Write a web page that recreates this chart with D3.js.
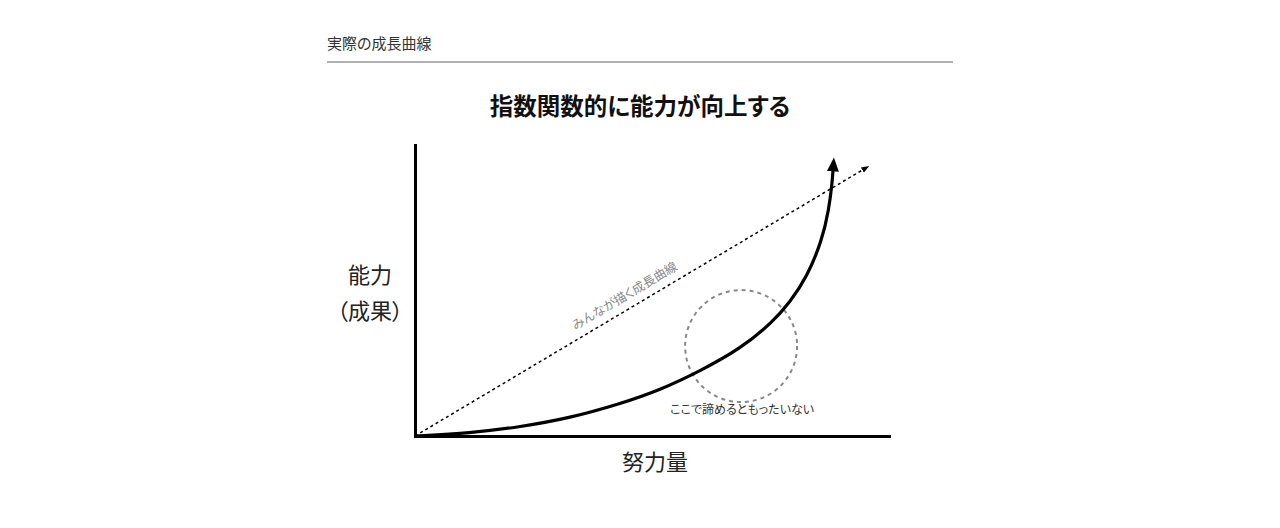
<!DOCTYPE html>
<html>
<head>
<meta charset="utf-8">
<script src="https://cdn.jsdelivr.net/npm/d3@7"></script>
<style>
  html, body { margin: 0; padding: 0; background: #fff; }
  svg text { font-family: "Noto Sans CJK JP", "Noto Sans", sans-serif; font-feature-settings: "palt"; }
</style>
</head>
<body>
<svg id="chart" width="1280" height="528"></svg>
<script>
// texts
const headerText = "実際の成長曲線";
const titleText = "指数関数的に能力が向上する";
const yLabelLines = ["能力", "（成果）"];
const xLabelText = "努力量";
const linearLabel = "みんなが描く成長曲線";
const circleLabel = "ここで諦めるともったいない";

const effort  = [0, 11.6, 22.2, 32.7, 43.2, 51.7, 60.1, 68.6, 75.5, 79.1, 82.7, 85.9, 87.3, 88.0, 88.2];
const ability = [0, 1.0, 3.1, 6.2, 11.0, 15.8, 22.3, 29.9, 39.2, 46.0, 54.6, 67.4, 77.7, 86.9, 91.6];

// the straight line everyone imagines
const linearEffort  = [0, 95.1];
const linearAbility = [0, 92.1];

// "give up here" circle centre
const circleCenter = [68.8, 30.9];

const width = 1280;
const height = 528;
const margin = { top: 145, right: 391, bottom: 92, left: 415 };

const svg = d3.select("#chart");

// header
svg.append("text")
    .attr("x", 327)
    .attr("y", 49)
    .style("font-size", "15px")
    .attr("fill", "#333")
    .text(headerText);

svg.append("line")
    .attr("x1", 327).attr("x2", 953)
    .attr("y1", 62).attr("y2", 62)
    .attr("stroke", "#999")
    .attr("stroke-width", 1.5);

// title
svg.append("text")
    .attr("x", 640)
    .attr("y", 115)
    .attr("text-anchor", "middle")
    .style("font-size", "23.5px")
    .style("font-weight", "bold")
    .attr("fill", "#111")
    .text(titleText);

// scales
const xScale = d3.scaleLinear()
    .domain([0, 100])
    .range([margin.left, width - margin.right]);

const yScale = d3.scaleLinear()
    .domain([0, 100])
    .range([height - margin.bottom, margin.top]);

// arrow markers
const defs = svg.append("defs");
defs.append("marker")
    .attr("id", "bigArrow")
    .attr("markerUnits", "userSpaceOnUse")
    .attr("viewBox", "0 0 14 12")
    .attr("markerWidth", 14)
    .attr("markerHeight", 12)
    .attr("refX", 2)
    .attr("refY", 6)
    .attr("orient", "auto")
    .append("path")
    .attr("d", "M0,0 L14,6 L0,12 Z")
    .attr("fill", "#000");

defs.append("marker")
    .attr("id", "smallArrow")
    .attr("markerUnits", "userSpaceOnUse")
    .attr("viewBox", "0 0 8 6")
    .attr("markerWidth", 8)
    .attr("markerHeight", 6)
    .attr("refX", 4)
    .attr("refY", 3)
    .attr("orient", "auto")
    .append("path")
    .attr("d", "M0,0 L8,3 L0,6 Z")
    .attr("fill", "#000");

// axes (no ticks, just the lines)
const xAxis = svg.append("g")
    .attr("transform", `translate(0, ${yScale(0)})`)
    .call(d3.axisBottom(xScale).ticks(0).tickSizeOuter(0));

const yAxis = svg.append("g")
    .attr("transform", `translate(${xScale(0)}, 0)`)
    .call(d3.axisLeft(yScale).ticks(0).tickSizeOuter(0));

[xAxis, yAxis].forEach(g => {
    g.select(".domain")
        .attr("stroke", "#000")
        .attr("stroke-width", 3)
        .attr("stroke-linecap", "square");
});

// dotted linear line
const linearData = linearEffort.map((e, i) => ({ x: e, y: linearAbility[i] }));
const line = d3.line()
    .x(d => xScale(d.x))
    .y(d => yScale(d.y));

svg.append("path")
    .datum(linearData)
    .attr("fill", "none")
    .attr("stroke", "#000")
    .attr("stroke-width", 1.5)
    .attr("stroke-dasharray", "3,3")
    .attr("marker-end", "url(#smallArrow)")
    .attr("d", line);

// label along the dotted line
const p0 = linearData[0], p1 = linearData[1];
const angle = Math.atan2(yScale(p1.y) - yScale(p0.y), xScale(p1.x) - xScale(p0.x)) * 180 / Math.PI;
const midX = xScale(p0.x + (p1.x - p0.x) * 0.48);
const midY = yScale(p0.y + (p1.y - p0.y) * 0.48);
svg.append("text")
    .attr("transform", `translate(${midX}, ${midY}) rotate(${angle}) translate(0, -9)`)
    .attr("text-anchor", "middle")
    .style("font-size", "12.5px")
    .attr("fill", "#888")
    .text(linearLabel);

// dashed circle
svg.append("circle")
    .attr("cx", xScale(circleCenter[0]))
    .attr("cy", yScale(circleCenter[1]))
    .attr("r", 56)
    .attr("fill", "none")
    .attr("stroke", "#888")
    .attr("stroke-width", 2)
    .attr("stroke-dasharray", "4,4");

svg.append("text")
    .attr("x", xScale(circleCenter[0]) + 1)
    .attr("y", yScale(circleCenter[1]) + 68)
    .attr("text-anchor", "middle")
    .style("font-size", "12px")
    .attr("fill", "#333")
    .text(circleLabel);

// actual growth curve (basis spline smooths the hand-read points)
const curveData = effort.map((e, i) => ({ x: e, y: ability[i] }));
const curve = d3.line()
    .x(d => xScale(d.x))
    .y(d => yScale(d.y))
    .curve(d3.curveBasis);

svg.append("path")
    .datum(curveData)
    .attr("fill", "none")
    .attr("stroke", "#000")
    .attr("stroke-width", 3.2)
    .attr("marker-end", "url(#bigArrow)")
    .attr("d", curve);

// axis labels
const yLab = svg.append("text")
    .attr("text-anchor", "middle")
    .style("font-size", "22px")
    .attr("fill", "#222");
yLab.selectAll("tspan")
    .data(yLabelLines)
    .join("tspan")
    .attr("x", 370)
    .attr("y", (d, i) => 283 + i * 36)
    .text(d => d);

svg.append("text")
    .attr("x", xScale(50) + 3)
    .attr("y", 470)
    .attr("text-anchor", "middle")
    .style("font-size", "22px")
    .attr("fill", "#222")
    .text(xLabelText);
</script>
</body>
</html>
